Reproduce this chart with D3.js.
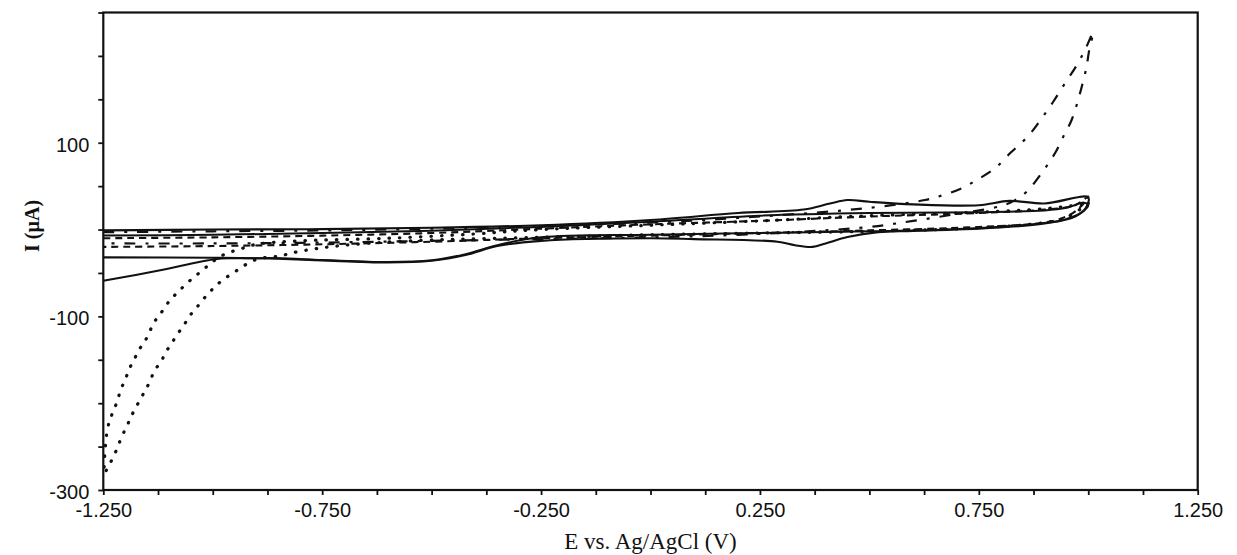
<!DOCTYPE html>
<html><head><meta charset="utf-8">
<script src="https://cdn.jsdelivr.net/npm/d3@7"></script>
<style>body{margin:0;background:#fff;} svg{display:block}</style>
</head><body>
<svg id="chart" width="1237" height="555"></svg>
<script>
// ---- axis ticks ----
const xTickValues = [-1.25,-1.125,-1.0,-0.875,-0.75,-0.625,-0.5,-0.375,-0.25,-0.125,0,0.125,0.25,0.375,0.5,0.625,0.75,0.875,1.0,1.125,1.25];
const xTickLabels = [-1.25,-0.75,-0.25,0.25,0.75,1.25];
const yTickValues = [-300,-250,-200,-150,-100,-50,0,50,100,150,200,250];
const yTickLabels = [-300,-100,100];

// ---- series (E in V, I in uA) ----
const solidA_E = [-1.25,-1.0,-0.75,-0.5,-0.25,0.0,0.2,0.35,0.41,0.45,0.5,0.6,0.75,0.82,0.9,1.0, 0.99,0.95,0.9,0.75,0.6,0.52,0.45,0.4,0.37,0.33,0.29,0.1,0.0,-0.25,-0.35,-0.42,-0.5,-0.6,-0.75,-0.85,-1.0,-1.25];
const solidA_I = [-1,0,0.5,2,5,11,19,23,30,34,32,29,28,33,30,37, 22,12,7.5,1.7,-1.5,-3,-8.7,-16,-20,-18,-14,-11,-10,-13,-19,-29,-36,-38,-35.5,-33.5,-32.5,-32];

const solidB_E = [-1.25,-1.12,-0.99,-0.9,-0.85,-0.75,-0.6,-0.5,-0.42,-0.35,-0.25,0,0.25,0.5,0.75,0.9,0.97,1.0, 0.99,0.95,0.9,0.75,0.5,0.25,0,-0.25,-0.5,-0.75,-1.0,-1.25];
const solidB_I = [-59,-47,-34,-33,-33,-35,-37.5,-35.5,-28,-18,-9,-6,-4,-2,1,7,15,28, 31,25,22,20,19,16,9,3,-1.5,-4,-6,-7];

const dotted_E = [1.0,0.95,0.9,0.75,0.5,0.25,0,-0.25,-0.5,-0.65,-0.75,-0.82,-0.846,-0.8807,-0.9035,-0.9263,-0.9492,-0.972,-0.991,-1.0063,-1.0216,-1.0353,-1.0481,-1.0595,-1.0709,-1.0823,-1.0938,-1.1052,-1.1143,-1.1244,-1.1358,-1.1449,-1.1548,-1.1662,-1.1792,-1.189,-1.1988,-1.2103,-1.2194,-1.2308,-1.2422,-1.247, -1.2409,-1.2308,-1.2194,-1.2103,-1.1988,-1.189,-1.1776,-1.1678,-1.1548,-1.1358,-1.1244,-1.113,-1.0976,-1.0823,-1.0595,-1.0367,-1.0138,-0.9949,-0.972,-0.9378,-0.9,-0.8,-0.6,-0.4,-0.25,0,0.25,0.5,0.75,0.9,1.0];
const dotted_I = [30,14,8,2,-2,-4,-6,-9,-12,-16,-21,-27,-30.5,-32.3,-35.1,-40.9,-48.6,-56.2,-63.9,-71.7,-80.4,-88.9,-96.5,-105.1,-113.8,-121.5,-131.1,-139.6,-148.4,-156.1,-165.7,-176.5,-185.7,-196.4,-208,-218.7,-229,-241.7,-253.2,-265.6,-276.3,-281, -231,-213.7,-199.5,-184.9,-171.4,-158.8,-147.7,-138,-128.5,-108.9,-99.7,-92.7,-81.2,-73.5,-62,-52.4,-42.9,-35.1,-28.2,-22.5,-17,-13,-10,-5,0,5,10,16,20,24,30];

const dashdot_E = [-1.25,-1.0,-0.75,-0.5,-0.25,0,0.25,0.5,0.627,0.6687,0.7107,0.745,0.7868,0.8249,0.8629,0.8935,0.92,0.9467,0.9718,0.9924,1.0113, 1.0022,0.9962,0.9871,0.9757,0.962,0.9428,0.9239,0.8971,0.8592,0.83,0.8,0.7,0.6,0.5,0.25,0,-0.25,-0.5,-0.75,-1.0,-1.25];
const dashdot_I = [-3,-2,-1,1,4,8,15,25,34,39.7,47.5,57,70.5,89.6,107.7,128.1,147.2,168.4,187.6,206.8,227.2, 206.8,187.6,168.4,147.2,126.2,106.9,87.8,67.7,43.5,33,27,18,10,3,-5,-9,-11,-13,-15,-16,-16];

const dashed_E = [-1.25,-1.0,-0.75,-0.5,-0.25,0,0.25,0.5,0.75,0.9,0.97,1.0,0.98,0.95,0.9,0.75,0.5,0.25,0,-0.25,-0.5,-0.75,-1.0,-1.25];
const dashed_I = [-10,-9,-7,-4,1,6,10,15,19,23,28,38,25,15,8,3,-1,-4,-7,-10,-14,-17,-19,-20];

const series = [
  {E: solidA_E, I: solidA_I, dash: null, width: 2.1, cap: "butt"},
  {E: solidB_E, I: solidB_I, dash: null, width: 2.0, cap: "butt"},
  {E: dashed_E, I: dashed_I, dash: "7,5", width: 2.1, cap: "butt"},
  {E: dashdot_E, I: dashdot_I, dash: "11,10,3,10", width: 2.2, cap: "butt"},
  {E: dotted_E, I: dotted_I, dash: "0.5,10", width: 3.2, cap: "round"}
];

const svg = d3.select("#chart");
const x = d3.scaleLinear().domain([-1.25, 1.25]).range([103.3, 1197.7]);
const y = d3.scaleLinear().domain([-300, 250]).range([490, 12.5]);

const fmt = d => d.toFixed(3);

svg.append("defs").append("clipPath").attr("id","clip")
  .append("rect").attr("x", x(-1.25)).attr("y", y(250)).attr("width", x(1.25)-x(-1.25)).attr("height", y(-300)-y(250));

const line = d3.line().x(d => x(d[0])).y(d => y(d[1])).curve(d3.curveCatmullRom.alpha(0.5));
const g = svg.append("g").attr("clip-path","url(#clip)");
series.forEach(s => {
  const pts = s.E.map((e,i) => [e, s.I[i]]);
  g.append("path").attr("d", line(pts))
    .attr("fill","none").attr("stroke","#111")
    .attr("stroke-width", s.width)
    .attr("stroke-linecap", s.cap)
    .attr("stroke-linejoin","round")
    .attr("stroke-dasharray", s.dash);
});

const xAxis = d3.axisBottom(x).tickValues(xTickValues).tickSize(5).tickPadding(8)
  .tickFormat(d => xTickLabels.some(v => Math.abs(v-d)<1e-9) ? fmt(d) : "");
const yAxis = d3.axisLeft(y).tickValues(yTickValues).tickSize(5).tickPadding(9)
  .tickFormat(d => yTickLabels.includes(d) ? String(d) : "");

const gx = svg.append("g").attr("transform", `translate(0,${y(-300)})`).call(xAxis);
const gy = svg.append("g").attr("transform", `translate(${x(-1.25)},0)`).call(yAxis);
[gx, gy].forEach(a => {
  a.select(".domain").remove();
  a.selectAll(".tick line").attr("stroke","#111").attr("stroke-width",1.8);
  a.selectAll(".tick text").attr("fill","#111")
    .style("font-family","'Liberation Sans', Arial, sans-serif").style("font-size","20px");
});
gy.selectAll(".tick text").attr("dy","0.42em");

svg.append("rect").attr("x", x(-1.25)).attr("y", y(250))
  .attr("width", x(1.25)-x(-1.25)).attr("height", y(-300)-y(250))
  .attr("fill","none").attr("stroke","#111").attr("stroke-width",2.2);

svg.append("text").attr("x", (x(-1.25)+x(1.25))/2).attr("y", 549)
  .attr("text-anchor","middle").attr("fill","#111")
  .style("font-family","'Liberation Serif', 'Times New Roman', serif").style("font-size","23px")
  .text("E vs. Ag/AgCl (V)");
svg.append("text").attr("transform","translate(39,226) rotate(-90)")
  .attr("text-anchor","middle").attr("fill","#111")
  .style("font-family","'Liberation Serif', 'Times New Roman', serif").style("font-size","20px").style("font-weight","bold")
  .text("I (µA)");
</script>
</body></html>
